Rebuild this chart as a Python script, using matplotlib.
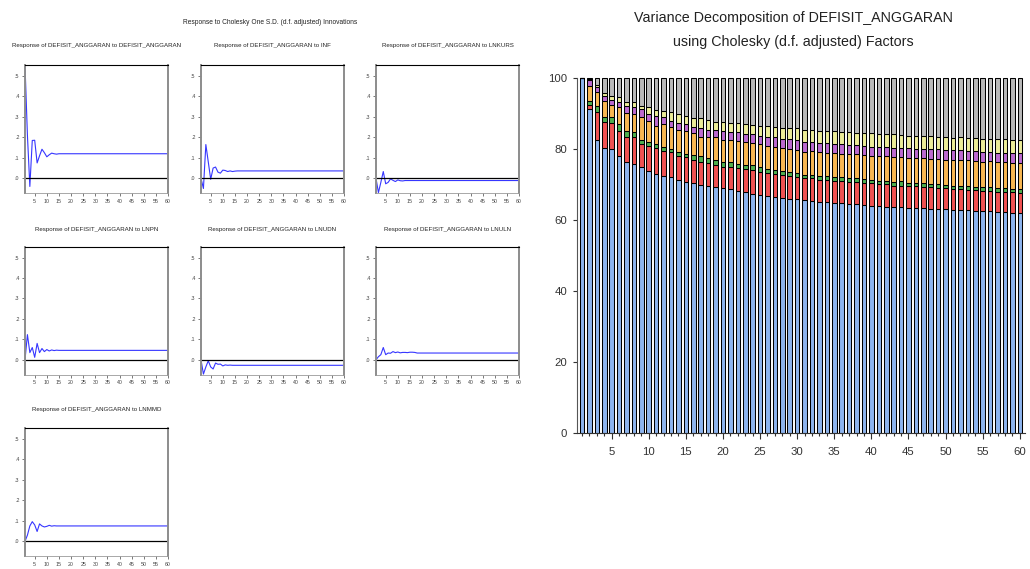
import matplotlib
matplotlib.use("Agg")
import matplotlib.pyplot as plt
import numpy as np

plt.rcParams['font.family'] = ['Liberation Sans', 'DejaVu Sans']

# ---------------- data ----------------
periods = list(range(1, 61))

irf_titles = [
    "Response of DEFISIT_ANGGARAN to DEFISIT_ANGGARAN",
    "Response of DEFISIT_ANGGARAN to INF",
    "Response of DEFISIT_ANGGARAN to LNKURS",
    "Response of DEFISIT_ANGGARAN to LNPN",
    "Response of DEFISIT_ANGGARAN to LNUDN",
    "Response of DEFISIT_ANGGARAN to LNULN",
    "Response of DEFISIT_ANGGARAN to LNMMD",
]

resp_defisit = [0.555, 0.21, -0.04, 0.185, 0.186, 0.075, 0.11, 0.142, 0.125, 0.105,
                0.115, 0.123, 0.120, 0.118, 0.120, 0.120, 0.120, 0.120, 0.120, 0.120,
                0.120, 0.120, 0.120, 0.120, 0.120, 0.120, 0.120, 0.120, 0.120, 0.120,
                0.120, 0.120, 0.120, 0.120, 0.120, 0.120, 0.120, 0.120, 0.120, 0.120,
                0.120, 0.120, 0.120, 0.120, 0.120, 0.120, 0.120, 0.120, 0.120, 0.120,
                0.120, 0.120, 0.120, 0.120, 0.120, 0.120, 0.120, 0.120, 0.120, 0.120]
resp_inf = [0.0, -0.05, 0.165, 0.08, -0.005, 0.05, 0.055, 0.03, 0.025, 0.04,
            0.038, 0.033, 0.036, 0.033, 0.035, 0.036, 0.036, 0.036, 0.036, 0.036,
            0.036, 0.036, 0.036, 0.036, 0.036, 0.036, 0.036, 0.036, 0.036, 0.036,
            0.036, 0.036, 0.036, 0.036, 0.036, 0.036, 0.036, 0.036, 0.036, 0.036,
            0.036, 0.036, 0.036, 0.036, 0.036, 0.036, 0.036, 0.036, 0.036, 0.036,
            0.036, 0.036, 0.036, 0.036, 0.036, 0.036, 0.036, 0.036, 0.036, 0.036]
resp_lnkurs = [0.0, -0.07, -0.02, 0.033, -0.027, -0.02, -0.003, -0.01, -0.016, -0.008,
               -0.012, -0.013, -0.011, -0.011, -0.011, -0.011, -0.011, -0.011, -0.011, -0.011,
               -0.011, -0.011, -0.011, -0.011, -0.011, -0.011, -0.011, -0.011, -0.011, -0.011,
               -0.011, -0.011, -0.011, -0.011, -0.011, -0.011, -0.011, -0.011, -0.011, -0.011,
               -0.011, -0.011, -0.011, -0.011, -0.011, -0.011, -0.011, -0.011, -0.011, -0.011,
               -0.011, -0.011, -0.011, -0.011, -0.011, -0.011, -0.011, -0.011, -0.011, -0.011]
resp_lnpn = [0.0, 0.123, 0.035, 0.06, 0.012, 0.08, 0.035, 0.055, 0.04, 0.05,
             0.043, 0.048, 0.045, 0.047, 0.046, 0.046, 0.046, 0.046, 0.046, 0.046,
             0.046, 0.046, 0.046, 0.046, 0.046, 0.046, 0.046, 0.046, 0.046, 0.046,
             0.046, 0.046, 0.046, 0.046, 0.046, 0.046, 0.046, 0.046, 0.046, 0.046,
             0.046, 0.046, 0.046, 0.046, 0.046, 0.046, 0.046, 0.046, 0.046, 0.046,
             0.046, 0.046, 0.046, 0.046, 0.046, 0.046, 0.046, 0.046, 0.046, 0.046]
resp_lnudn = [0.0, -0.07, -0.035, -0.005, -0.035, -0.045, -0.016, -0.022, -0.021, -0.03,
              -0.025, -0.027, -0.026, -0.027, -0.027, -0.027, -0.027, -0.027, -0.027, -0.027,
              -0.027, -0.027, -0.027, -0.027, -0.027, -0.027, -0.027, -0.027, -0.027, -0.027,
              -0.027, -0.027, -0.027, -0.027, -0.027, -0.027, -0.027, -0.027, -0.027, -0.027,
              -0.027, -0.027, -0.027, -0.027, -0.027, -0.027, -0.027, -0.027, -0.027, -0.027,
              -0.027, -0.027, -0.027, -0.027, -0.027, -0.027, -0.027, -0.027, -0.027, -0.027]
resp_lnuln = [0.0, 0.015, 0.025, 0.06, 0.025, 0.033, 0.032, 0.04, 0.035, 0.038,
              0.034, 0.036, 0.036, 0.035, 0.037, 0.037, 0.036, 0.033, 0.033, 0.033,
              0.033, 0.033, 0.033, 0.033, 0.033, 0.033, 0.033, 0.033, 0.033, 0.033,
              0.033, 0.033, 0.033, 0.033, 0.033, 0.033, 0.033, 0.033, 0.033, 0.033,
              0.033, 0.033, 0.033, 0.033, 0.033, 0.033, 0.033, 0.033, 0.033, 0.033,
              0.033, 0.033, 0.033, 0.033, 0.033, 0.033, 0.033, 0.033, 0.033, 0.033]
resp_lnmmd = [0.0, 0.03, 0.075, 0.096, 0.08, 0.048, 0.085, 0.075, 0.07, 0.073,
              0.078, 0.074, 0.076, 0.075, 0.075, 0.075, 0.075, 0.075, 0.075, 0.075,
              0.075, 0.075, 0.075, 0.075, 0.075, 0.075, 0.075, 0.075, 0.075, 0.075,
              0.075, 0.075, 0.075, 0.075, 0.075, 0.075, 0.075, 0.075, 0.075, 0.075,
              0.075, 0.075, 0.075, 0.075, 0.075, 0.075, 0.075, 0.075, 0.075, 0.075,
              0.075, 0.075, 0.075, 0.075, 0.075, 0.075, 0.075, 0.075, 0.075, 0.075]

irf_series = [resp_defisit, resp_inf, resp_lnkurs, resp_lnpn, resp_lnudn, resp_lnuln, resp_lnmmd]
irf_ticks = [0.0, 0.1, 0.2, 0.3, 0.4, 0.5]
irf_ticklabels = [".0", ".1", ".2", ".3", ".4", ".5"]

# variance decomposition shares (%)
vd_defisit = [100.0, 91.3, 82.4, 80.3, 80.0, 77.9, 76.3, 75.8, 74.8, 73.9,
              73.0, 72.5, 72.0, 71.3, 70.7, 70.3, 69.8, 69.6, 69.2, 68.9,
              68.6, 68.2, 67.8, 67.4, 67.1, 66.7, 66.5, 66.3, 66.0, 65.8,
              65.5, 65.3, 65.2, 65.0, 64.9, 64.7, 64.6, 64.4, 64.2, 64.0,
              63.9, 63.8, 63.7, 63.6, 63.5, 63.4, 63.3, 63.2, 63.1, 63.0,
              62.9, 62.8, 62.7, 62.6, 62.5, 62.4, 62.3, 62.2, 62.1, 62.0]
vd_inf = [0.0, 1.2, 7.9, 7.4, 7.2, 7.3, 7.2, 7.5, 6.6, 7.0,
          7.3, 6.8, 7.1, 6.8, 7.0, 6.6, 6.6, 6.4, 6.3, 6.1,
          6.4, 6.5, 6.6, 6.7, 6.5, 6.6, 6.4, 6.5, 6.4, 6.3,
          6.3, 6.4, 6.2, 6.3, 6.2, 6.3, 6.1, 6.3, 6.2, 6.3,
          6.1, 6.2, 6.0, 6.1, 6.0, 6.1, 5.9, 6.0, 5.9, 5.9,
          5.8, 5.9, 5.8, 5.8, 5.7, 5.8, 5.7, 5.8, 5.7, 5.7]
vd_lnkurs = [0.0, 1.1, 1.7, 1.4, 1.8, 1.9, 1.7, 1.4, 1.0, 1.0,
             1.1, 1.2, 0.9, 1.0, 0.9, 1.4, 1.5, 1.4, 1.4, 1.4,
             1.4, 1.2, 1.1, 1.3, 1.2, 1.0, 1.2, 1.1, 1.0, 1.1,
             0.9, 1.1, 1.0, 1.2, 1.0, 1.1, 1.2, 1.0, 1.1, 1.1,
             1.0, 1.1, 1.0, 1.2, 0.9, 1.0, 1.1, 1.0, 1.1, 0.9,
             1.0, 1.0, 1.1, 0.9, 1.0, 1.0, 0.9, 1.0, 0.9, 0.9]
vd_lnpn = [0.0, 4.2, 4.0, 4.4, 3.5, 4.7, 4.9, 5.3, 6.5, 6.1,
           5.2, 6.5, 6.1, 6.3, 6.6, 6.3, 5.6, 6.1, 6.4, 6.1,
           6.1, 6.3, 6.4, 6.2, 6.5, 6.6, 6.5, 6.4, 6.7, 6.6,
           6.5, 6.6, 6.7, 6.5, 6.8, 6.6, 6.7, 6.8, 6.7, 6.7,
           6.9, 6.8, 7.0, 6.8, 7.1, 7.0, 7.1, 7.0, 7.1, 7.2,
           7.2, 7.1, 7.2, 7.3, 7.2, 7.3, 7.3, 7.3, 7.4, 7.4]
vd_lnudn = [0.0, 1.6, 1.6, 1.3, 1.3, 1.4, 1.9, 1.7, 2.4, 1.9,
            2.8, 1.9, 1.9, 1.8, 1.8, 1.7, 2.3, 1.8, 2.0, 2.7,
            2.4, 2.5, 2.4, 2.6, 2.5, 2.6, 2.7, 2.6, 2.7, 2.8,
            2.8, 2.6, 2.7, 2.6, 2.6, 2.7, 2.6, 2.5, 2.6, 2.5,
            2.6, 2.6, 2.7, 2.6, 2.7, 2.6, 2.7, 2.8, 2.7, 2.7,
            2.7, 2.8, 2.7, 2.8, 2.8, 2.7, 2.8, 2.7, 2.8, 2.8]
vd_lnuln = [0.0, 0.3, 0.4, 0.9, 1.0, 1.4, 1.2, 1.4, 0.9, 1.8,
            1.6, 1.9, 2.3, 2.7, 2.4, 2.3, 2.8, 2.9, 2.4, 2.5,
            2.3, 2.5, 2.7, 2.6, 2.8, 2.9, 2.9, 3.1, 3.0, 3.2,
            3.3, 3.3, 3.4, 3.4, 3.5, 3.5, 3.6, 3.6, 3.7, 3.8,
            3.7, 3.6, 3.7, 3.7, 3.6, 3.7, 3.6, 3.7, 3.6, 3.7,
            3.6, 3.7, 3.6, 3.7, 3.7, 3.6, 3.7, 3.7, 3.6, 3.7]
vd_lnmmd = [0.0, 0.3, 2.0, 4.3, 5.2, 5.4, 6.8, 6.9, 7.8, 8.3,
            9.0, 9.2, 9.7, 10.1, 10.6, 11.4, 11.4, 11.8, 12.3, 12.3,
            12.8, 12.8, 13.0, 13.2, 13.4, 13.6, 13.8, 14.0, 14.2, 14.2,
            14.7, 14.7, 14.8, 15.0, 15.0, 15.1, 15.2, 15.4, 15.5, 15.6,
            15.8, 15.9, 15.9, 16.0, 16.2, 16.2, 16.3, 16.3, 16.5, 16.6,
            16.8, 16.7, 16.9, 16.9, 17.1, 17.2, 17.3, 17.3, 17.5, 17.5]

vd_series = [vd_defisit, vd_inf, vd_lnkurs, vd_lnpn, vd_lnudn, vd_lnuln, vd_lnmmd]
vd_colors = ["#8db4ee", "#f05252", "#4fb04f", "#f8b752", "#bc6ad0", "#ecec98", "#b9b9b9"]

# ---------------- figure ----------------
W, H = 1030, 569
fig = plt.figure(figsize=(W / 100, H / 100), dpi=100)


def px_axes(left, top, width, height):
    return fig.add_axes([left / W, 1 - (top + height) / H, width / W, height / H])


col_left = [25, 201, 376]
row_top = [65, 246.5, 428]
title_y = [46, 229, 409]
pw, ph = 143, 128

fig.text(270 / W, 1 - 22 / H, "Response to Cholesky One S.D. (d.f. adjusted) Innovations",
         ha="center", va="center", fontsize=4.8, color="#222222")

for i, (title, vals) in enumerate(zip(irf_titles, irf_series)):
    r, c = divmod(i, 3)
    ax = px_axes(col_left[c], row_top[r], pw, ph)
    ax.plot(periods, vals, color="#3636ff", lw=0.8)
    ax.axhline(0, color="black", lw=0.9)
    ax.set_xlim(1, 60)
    ax.set_ylim(-0.072, 0.554)
    ax.set_xticks(list(range(5, 61, 5)))
    ax.set_yticks(irf_ticks)
    ax.set_yticklabels(irf_ticklabels)
    ax.tick_params(labelsize=3.8, length=2, width=0.5, pad=2, colors="#444444")
    for s in ["left", "right"]:
        ax.spines[s].set_color("#8c8c8c")
        ax.spines[s].set_linewidth(1.4)
    ax.spines["top"].set_color("black")
    ax.spines["top"].set_linewidth(0.8)
    ax.spines["bottom"].set_color("#9a9a9a")
    ax.spines["bottom"].set_linewidth(0.6)
    fig.text((col_left[c] + pw / 2) / W, 1 - title_y[r] / H, title,
             ha="center", va="center", fontsize=4.45, color="#222222")

# ---------------- variance decomposition ----------------
axv = px_axes(577, 78, 448, 355)
bottom = np.zeros(len(periods))
for vals, col in zip(vd_series, vd_colors):
    v = np.array(vals)
    axv.bar(periods, v, bottom=bottom, width=0.62, color=col,
            edgecolor="black", linewidth=0.75, clip_on=False)
    bottom += v
axv.set_xlim(0.33, 60.7)
axv.set_ylim(0, 100)
axv.set_yticks([0, 20, 40, 60, 80, 100])
axv.set_xticks(list(range(5, 61, 5)))
axv.set_xticks(periods, minor=True)
axv.tick_params(axis="y", labelsize=8.2, length=3, width=0.8, pad=4, colors="#333333")
axv.tick_params(axis="x", which="major", labelsize=8.2, length=4, width=0.8, pad=6, colors="#333333")
axv.tick_params(axis="x", which="minor", length=2.5, width=0.8, colors="#333333")
axv.spines["top"].set_visible(False)
axv.spines["right"].set_visible(False)
axv.spines["left"].set_color("#555555")
axv.spines["bottom"].set_color("#333333")

fig.text(793 / W, 1 - 18 / H, "Variance Decomposition of DEFISIT_ANGGARAN",
         ha="center", va="center", fontsize=10.3, color="#222222")
fig.text(793 / W, 1 - 42 / H, "using Cholesky (d.f. adjusted) Factors",
         ha="center", va="center", fontsize=10.3, color="#222222")

fig.savefig("out.png", dpi=100)
